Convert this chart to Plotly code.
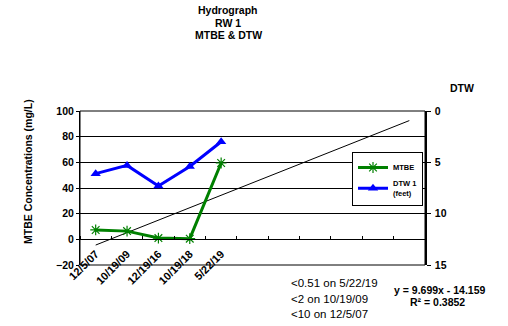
import plotly.graph_objects as go

# Sampling dates (category axis) and measured values
dates = ["12/5/07", "10/19/09", "12/19/16", "10/19/18", "5/22/19"]
mtbe = [7.3, 6.4, 1.0, 0.5, 59.5]          # MTBE concentration, mg/L
dtw = [6.1, 5.3, 7.3, 5.4, 3.0]            # depth to water, feet

# Linear trendline on MTBE (forecast out to 11 categories)
trend_slope = 9.699
trend_intercept = -14.159
trend_r2 = 0.3852
n_categories = 11

title_lines = ["Hydrograph", "RW 1", "MTBE & DTW"]
notes = ["<0.51 on 5/22/19", "<2 on 10/19/09", "<10 on 12/5/07"]

x_pos = list(range(1, len(dates) + 1))
trend_x = [1, n_categories]
trend_y = [trend_slope * v + trend_intercept for v in trend_x]

FONT = "Liberation Sans, Arial, sans-serif"
GREEN = "#008000"
BLUE = "#0000FF"

# plot-area pixel box
L, R, T, B = 80, 425, 111, 265
W, H = R - L, B - T


def px_x(p):
    return (p - L) / W


def px_y(p):
    return (B - p) / H


fig = go.Figure()

fig.add_trace(go.Scatter(
    x=trend_x, y=trend_y, mode="lines",
    line=dict(color="black", width=1), showlegend=False, hoverinfo="skip",
))
fig.add_trace(go.Scatter(
    x=x_pos, y=mtbe, mode="lines+markers", name="MTBE",
    line=dict(color=GREEN, width=3),
    marker=dict(symbol="asterisk-open", size=9, color=GREEN, line=dict(color=GREEN, width=1.2)),
    legendgroup="a",
))
fig.add_trace(go.Scatter(
    x=x_pos, y=dtw, mode="lines+markers", name="DTW 1<br>(feet)", yaxis="y2",
    line=dict(color=BLUE, width=3),
    marker=dict(symbol="triangle-up", size=9, color=BLUE),
    legendgroup="b",
))

bold = dict(family=FONT, color="black", weight="bold")
tick_font = dict(bold, size=10.5)

fig.update_layout(
    width=508, height=326,
    margin=dict(l=L, r=508 - R, t=T, b=326 - B),
    paper_bgcolor="white", plot_bgcolor="white",
    font=dict(family=FONT, color="black"),
    xaxis=dict(
        range=[0.5, n_categories + 0.5],
        tickmode="array", tickvals=x_pos, ticktext=dates,
        tickangle=-45, tickfont=dict(bold, size=11), ticks="",
        ticklabelstandoff=3,
        anchor="free", position=20 / 120,
        showline=True, linecolor="black", linewidth=1,
        showgrid=False, zeroline=False,
        minor=dict(
            tickmode="array",
            tickvals=[k + 0.5 for k in range(n_categories + 1)],
            ticks="inside", ticklen=3, tickcolor="black", tickwidth=1,
            showgrid=False,
        ),
    ),
    yaxis=dict(
        range=[-20, 100], dtick=20, tickfont=tick_font,
        ticks="outside", ticklen=3, tickcolor="black",
        showline=True, linecolor="black", linewidth=1,
        showgrid=True, gridcolor="black", gridwidth=1,
        zeroline=False,
    ),
    yaxis2=dict(
        overlaying="y", side="right", range=[15, 0], dtick=5,
        tickfont=tick_font, ticks="outside", ticklen=4, tickcolor="black",
        ticklabelstandoff=2,
        showline=True, linecolor="black", linewidth=1.5,
        showgrid=False, zeroline=False,
    ),
    legend=dict(
        x=px_x(352), y=px_y(152), xanchor="left", yanchor="top",
        bgcolor="white", bordercolor="black", borderwidth=1,
        font=dict(bold, size=7.5),
        itemwidth=30, tracegroupgap=0,
    ),
    showlegend=True,
)

# Plot-area frame
fig.add_shape(type="rect", xref="x domain", yref="y domain", x0=0, x1=1, y0=0, y1=1,
              line=dict(color="black", width=1), layer="below")

annots = []
for txt, ypix in zip(title_lines, [10, 22.5, 35]):
    annots.append(dict(text=txt, x=px_x(228), y=px_y(ypix), font=dict(bold, size=10.5)))
annots += [
    dict(text="MTBE Concentrations (mg/L)", x=px_x(28), y=px_y(172),
         textangle=-90, font=dict(bold, size=10.5)),
    dict(text="DTW", x=px_x(462), y=px_y(88), font=dict(bold, size=10.5)),
    dict(text=f"y = {trend_slope}x - {abs(trend_intercept)}", x=px_x(440), y=px_y(290),
         font=dict(bold, size=10.5)),
    dict(text=f"R² = {trend_r2}", x=px_x(437.5), y=px_y(302), font=dict(bold, size=10.5)),
]
for txt, ypix in zip(notes, [283, 299, 314]):
    annots.append(dict(text=txt, x=px_x(289), y=px_y(ypix), xanchor="left",
                       font=dict(family=FONT, size=11.5, color="black")))
for a in annots:
    a.setdefault("xanchor", "center")
    fig.add_annotation(xref="paper", yref="paper", yanchor="middle", showarrow=False, **a)

fig.write_html("out.html")
